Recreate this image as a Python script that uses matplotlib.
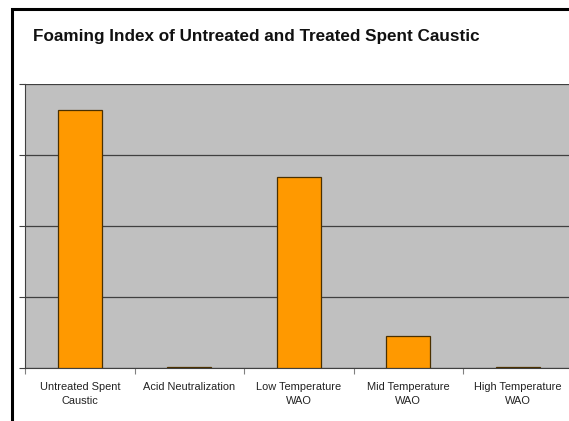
import matplotlib
matplotlib.use("Agg")
import matplotlib.pyplot as plt
from matplotlib.patches import Rectangle

categories = ["Untreated Spent\nCaustic", "Acid Neutralization", "Low Temperature\nWAO",
              "Mid Temperature\nWAO", "High Temperature\nWAO"]
values = [3.63, 0.02, 2.69, 0.45, 0.02]

plt.rcParams['font.family'] = ['Liberation Sans', 'DejaVu Sans']

fig = plt.figure(figsize=(5.69, 4.21), dpi=100)
fig.patch.set_facecolor('white')

# outer chart border (top and left visible)
fig.patches.append(Rectangle((12/569, -0.1), 1.2, (421-9)/421 + 0.1, transform=fig.transFigure,
                             fill=False, edgecolor='black', linewidth=2.2, zorder=0))

ax = fig.add_axes([25/569, (421-368)/421, 547.5/569, 284/421])
ax.set_facecolor('#C0C0C0')
x = list(range(len(categories)))
ax.bar(x, values, width=0.4, color='#FF9900', edgecolor='#4a3000', linewidth=0.9, zorder=3)
ax.set_xlim(-0.5, 4.5)
ax.set_ylim(0, 4)
ax.set_yticks([0, 1, 2, 3, 4])
ax.set_yticklabels([])
ax.yaxis.grid(True, color='#404040', linewidth=0.9, zorder=1)
ax.set_axisbelow(True)
ax.set_xticks([i - 0.5 for i in range(len(categories) + 1)], minor=False)
ax.set_xticklabels([])
ax.set_xticks(x, minor=True)
ax.set_xticklabels(categories, minor=True, fontsize=7.9, color='#222222', linespacing=1.55)
ax.tick_params(axis='x', which='minor', length=0, pad=10)
ax.tick_params(axis='x', which='major', length=4, color='#808080')
ax.tick_params(axis='y', length=4, color='#404040')
for s in ['top', 'right']:
    ax.spines[s].set_visible(False)
ax.spines['left'].set_color('#404040')
ax.spines['bottom'].set_color('#404040')

fig.text(33/569, 1 - 37/421, "Foaming Index of Untreated and Treated Spent Caustic",
         fontsize=12.3, fontweight='bold', color='#111111', va='center', ha='left')

fig.savefig("out.png", dpi=100)
